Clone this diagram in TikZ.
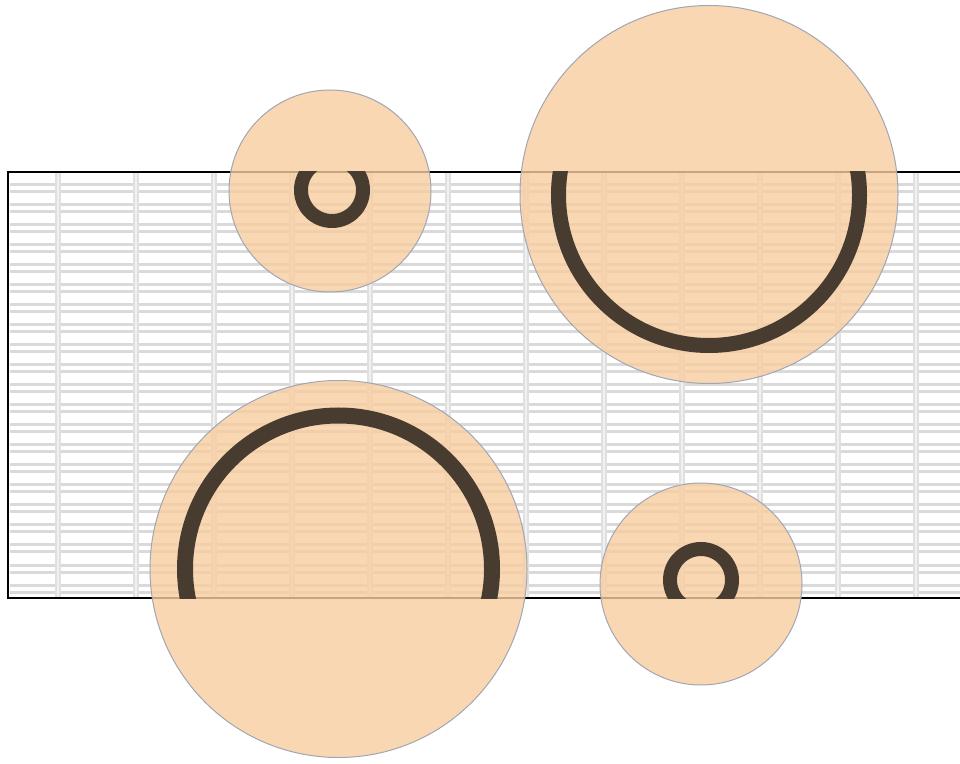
\documentclass[tikz,border=0pt]{standalone}
\usepackage{tikz}
\definecolor{peach}{RGB}{249, 205, 160}
\definecolor{ringbrown}{RGB}{72, 60, 48}
\definecolor{rimgray}{RGB}{160, 166, 178}
\definecolor{gridgray}{RGB}{218, 218, 218}

\begin{document}
\begin{tikzpicture}[x=1pt, y=1pt,
    site/.style={fill=peach, fill opacity=0.8, draw=rimgray, line width=1pt},
    ring/.style={draw=ringbrown, line width=#1}]
    \useasboundingbox (0, 0) rectangle (960, 763);

    % Grid of the panel
    \foreach \k in {0,...,20} {
        \draw[gridgray, line width=3pt] (10, 578-20*\k) -- (960, 578-20*\k);
        \draw[gridgray, line width=3pt] (10, 571-20*\k) -- (960, 571-20*\k);
    }
    \foreach \k in {0,...,11} {
        \draw[gridgray!85, line width=6pt] (58+78*\k, 590) -- (58+78*\k, 166);
        \draw[white!60!gridgray, line width=2pt] (58+78*\k, 590) -- (58+78*\k, 166);
    }

    % Panel border
    \draw[black, line width=2pt] (960, 591) -- (8, 591) -- (8, 165) -- (960, 165);

    % Translucent sites
    \path[site] (330, 572) circle (101);
    \path[site] (709, 568.5) circle (189);
    \path[site] (338.5, 194) circle (188.5);
    \path[site] (701, 179) circle (101);

    % Rings cut by the top edge
    \begin{scope}
        \clip (0, 0) rectangle (960, 591);
        \draw[ring=14pt] (332, 573) circle (31);
        \draw[ring=15pt] (709, 568) circle (150.5);
    \end{scope}

    % Rings cut by the bottom edge
    \begin{scope}
        \clip (0, 165) rectangle (960, 763);
        \draw[ring=14pt] (701, 183) circle (31);
        \draw[ring=16pt] (338.5, 194) circle (153.5);
    \end{scope}
\end{tikzpicture}
\end{document}
